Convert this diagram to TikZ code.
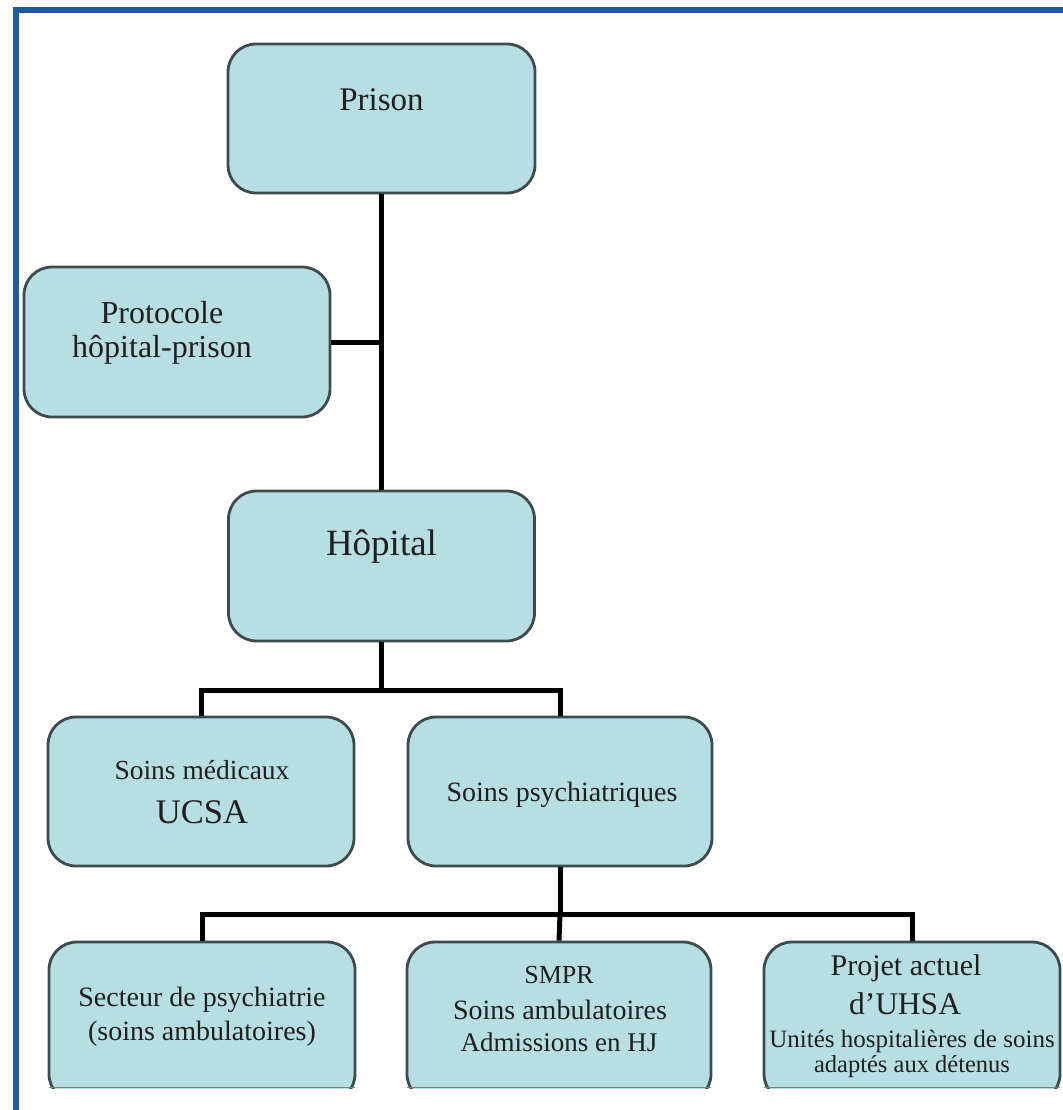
\documentclass[tikz,border=0pt]{standalone}
\usepackage{fontspec}
\setmainfont{Liberation Serif}
\definecolor{boxfill}{HTML}{B7DEE2}
\definecolor{boxline}{HTML}{3D4B4D}
\definecolor{frameblue}{HTML}{1E5AA0}
\newcommand{\fsz}[1]{\fontsize{#1}{#1}\selectfont}
\begin{document}
\begin{tikzpicture}[x=1pt,y=-1pt,
  box/.style={draw=boxline,line width=2.8pt,fill=boxfill,rounded corners=28pt,
    rectangle,inner sep=0pt},
  lbl/.style={inner sep=0pt,text=black!88,anchor=center},
  conn/.style={draw=black,line width=5pt}]
\useasboundingbox (0,0) rectangle (1062,1110);
\fill[white] (0,0) rectangle (1062,1110);
% frame
\draw[frameblue,line width=6pt] (15.5,1112) -- (15.5,10) -- (1064,10);
% boxes
\node[box,minimum width=307pt,minimum height=149pt] (prison) at (381.5,118.5) {};
\node[box,minimum width=306pt,minimum height=150pt] (proto) at (177,342) {};
\node[box,minimum width=306pt,minimum height=150pt] (hopital) at (381.5,566) {};
\node[box,minimum width=306pt,minimum height=149pt] (med) at (201,791.5) {};
\node[box,minimum width=304pt,minimum height=149pt] (psy) at (560,791.5) {};
\begin{scope}
\clip (0,0) rectangle (1062,1088);
\node[box,minimum width=306pt,minimum height=160pt] (secteur) at (202,1022) {};
\node[box,minimum width=304pt,minimum height=160pt] (smpr) at (559,1022) {};
\node[box,minimum width=296pt,minimum height=160pt] (uhsa) at (912,1022) {};
\end{scope}
\coordinate (cut1) at (49,1087.5);
\coordinate (cut2) at (355,1087.5);
\coordinate (cut3) at (407,1087.5);
\coordinate (cut4) at (711,1087.5);
\coordinate (cut5) at (764,1087.5);
\coordinate (cut6) at (1060,1087.5);
\draw[boxline!70,line width=1.2pt] (cut1) -- (cut2) (cut3) -- (cut4) (cut5) -- (cut6);
% connectors
\coordinate (bus1) at (381.5,690);
\coordinate (bus2) at (560,914);
\draw[conn] (prison.south) -- (hopital.north);
\draw[conn] (proto.east) -- (proto.east -| prison.south);
\draw[conn] (hopital.south) -- (bus1);
\draw[conn] (med.north) |- (bus1) -| (psy.north);
\draw[conn] (psy.south) -- (bus2);
\draw[conn] (secteur.north) |- (bus2) -| (uhsa.north);
\draw[conn] (bus2) -- (smpr.north);
% labels
\node[lbl,font=\fsz{33}] (tprison) at (381.5,100) {Prison};
\node[lbl,font=\fsz{32}] (tproto1) at (162,313) {Protocole};
\node[lbl,font=\fsz{32}] (tproto2) at (162,350) {hôpital-prison};
\node[lbl,font=\fsz{37}] (thop) at (381.5,547) {Hôpital};
\node[lbl,font=\fsz{27.5}] (tmed1) at (202,770) {Soins médicaux};
\node[lbl,font=\fsz{34.5}] (tmed2) at (202,812) {UCSA};
\node[lbl,font=\fsz{28}] (tpsy) at (562,795) {Soins psychiatriques};
\node[lbl,font=\fsz{28}] (tsec1) at (202,1000) {Secteur de psychiatrie};
\node[lbl,font=\fsz{28}] (tsec2) at (202,1034) {(soins ambulatoires)};
\node[lbl,font=\fsz{26}] (tsmpr1) at (559,975) {SMPR};
\node[lbl,font=\fsz{28}] (tsmpr2) at (560,1010) {Soins ambulatoires};
\node[lbl,font=\fsz{27}] (tsmpr3) at (559,1042) {Admissions en HJ};
\node[lbl,font=\fsz{30}] (tuhsa1) at (906,968) {Projet actuel};
\node[lbl,font=\fsz{31.5}] (tuhsa2) at (905,1004) {d’UHSA};
\node[lbl,font=\fsz{25}] (tuhsa3) at (912,1041) {Unités hospitalières de soins};
\node[lbl,font=\fsz{24.5}] (tuhsa4) at (912,1067) {adaptés aux détenus};
\end{tikzpicture}
\end{document}
